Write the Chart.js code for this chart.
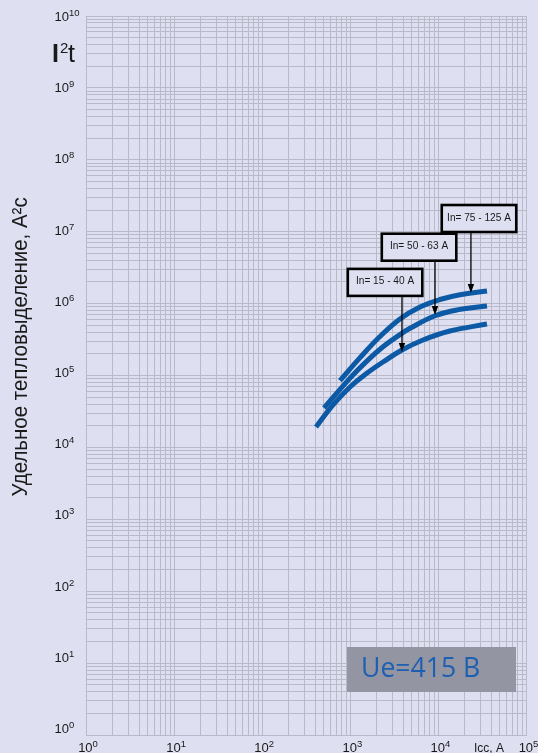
<!DOCTYPE html>
<html><head><meta charset="utf-8">
<script src="https://cdn.jsdelivr.net/npm/chart.js@4.4.1/dist/chart.umd.min.js"></script>
<style>html,body{margin:0;padding:0;background:#dedff0;}canvas{display:block;}</style>
</head><body>
<canvas id="c" width="538" height="753" style="width:538px;height:753px"></canvas>
<script>
// ---- data ----
const xExponents = [0, 1, 2, 3, 4, 5];
const yExponents = [0, 1, 2, 3, 4, 5, 6, 7, 8, 9, 10];
const seriesNames = ['In= 15 - 40 A', 'In= 50 - 63 A', 'In= 75 - 125 A'];

const lowX = [408, 636, 993, 1550, 2350, 3860, 6680, 13500, 35600];
const lowY = [1.92e4, 3.89e4, 6.92e4, 1.08e5, 1.54e5, 2.26e5, 3.12e5, 4.16e5, 5.2e5];

const midX = [503, 993, 1550, 2350, 3660, 4760, 9150, 16300, 35600];
const midY = [3.53e4, 9.2e4, 1.60e5, 2.51e5, 3.71e5, 4.53e5, 6.77e5, 8.17e5, 9.26e5];

const highX = [764, 1290, 2170, 3660, 6180, 10400, 17600, 35600];
const highY = [8.49e4, 1.77e5, 3.48e5, 6.11e5, 8.97e5, 1.14e6, 1.33e6, 1.50e6];

// annotation arrows: tip on curve, box bottom-centre
const annotTipX = [3860, 9150, 23400];
const annotTipY = [2.12e5, 6.94e5, 1.40e6];
const annotBoxX = [2480, 6030, 28900];
const annotBoxY = [1.28e6, 3.95e6, 9.9e6];

const yTitle = 'Удельное тепловыделение, А²с';
const xTitle = 'Icc, A';
const voltageLabel = 'Ue=415 B';

// ---- styles ----
const BG = '#dedff0';
const GRID = '#b8bac9';
const CURVE = '#0c5aa6';
const TXT = '#1a1a1a';
const FONT = '"Liberation Sans", Arial, sans-serif';

function gridValues(exps) {
  const v = [];
  for (let i = 0; i < exps.length; i++) {
    const b = Math.pow(10, exps[i]);
    if (i === exps.length - 1) { v.push(b); break; }
    for (let m = 1; m < 10; m++) v.push(m * b);
  }
  return v;
}
function pts(xs, ys) { return xs.map((v, i) => ({x: v, y: ys[i]})); }

function drawPow(ctx, exp, x, yb, align) {
  const main = '10', sup = String(exp);
  ctx.font = '13px ' + FONT;
  const wm = ctx.measureText(main).width;
  ctx.font = '9.5px ' + FONT;
  const ws = ctx.measureText(sup).width;
  let x0 = x;
  if (align === 'center') x0 = x - (wm + ws) / 2;
  ctx.textAlign = 'left';
  ctx.textBaseline = 'alphabetic';
  ctx.font = '13px ' + FONT;
  ctx.fillText(main, x0, yb);
  ctx.font = '9.5px ' + FONT;
  ctx.fillText(sup, x0 + wm, yb - 5);
}

const decor = {
  id: 'decor',
  afterDatasetsDraw(chart) {
    const {ctx, scales: {x, y}} = chart;
    ctx.save();
    for (let i = 0; i < seriesNames.length; i++) {
      const tx = x.getPixelForValue(annotTipX[i]);
      const ty = y.getPixelForValue(annotTipY[i]);
      const bx = x.getPixelForValue(annotBoxX[i]);
      const by = y.getPixelForValue(annotBoxY[i]);
      const w = 74.5, h = 27;
      ctx.strokeStyle = '#000';
      ctx.lineWidth = 1.3;
      ctx.beginPath();
      ctx.moveTo(tx, by);
      ctx.lineTo(tx, ty - 8);
      ctx.stroke();
      ctx.fillStyle = '#000';
      ctx.beginPath();
      ctx.moveTo(tx - 3.2, ty - 9);
      ctx.lineTo(tx + 3.2, ty - 9);
      ctx.lineTo(tx, ty);
      ctx.closePath();
      ctx.fill();
      ctx.fillStyle = BG;
      ctx.fillRect(bx - w / 2, by - h, w, h);
      ctx.lineWidth = 2.6;
      ctx.strokeRect(bx - w / 2, by - h, w, h);
      ctx.save();
      ctx.translate(bx, by - 11.5);
      ctx.scale(0.88, 1);
      ctx.fillStyle = TXT;
      ctx.font = '11.5px ' + FONT;
      ctx.textAlign = 'center';
      ctx.textBaseline = 'alphabetic';
      ctx.fillText(seriesNames[i], 0, 0);
      ctx.restore();
    }
    ctx.fillStyle = '#9395a3';
    ctx.fillRect(347, 647, 169, 45);
    ctx.fillStyle = '#1d5fb0';
    ctx.save();
    ctx.translate(361, 677);
    ctx.scale(0.95, 1);
    ctx.font = '28px "Open Sans", "Liberation Sans", sans-serif';
    ctx.textAlign = 'left';
    ctx.textBaseline = 'alphabetic';
    ctx.fillText(voltageLabel, 0, 0);
    ctx.restore();
    ctx.restore();
  },
  afterDraw(chart) {
    const {ctx, scales: {x, y}} = chart;
    ctx.save();
    ctx.fillStyle = TXT;
    yExponents.forEach(e => {
      const py = y.getPixelForValue(Math.pow(10, e));
      drawPow(ctx, e, 54.5, py - 2 + 0.7 * e, 'left');
    });
    xExponents.forEach(e => {
      const px = x.getPixelForValue(Math.pow(10, e));
      drawPow(ctx, e, px + 2, 752, 'center');
    });
    ctx.font = '12px ' + FONT;
    ctx.textAlign = 'left';
    ctx.fillText(xTitle, 474, 752);
    ctx.font = 'bold 25px ' + FONT;
    ctx.fillText('I', 52, 62);
    ctx.font = '15px ' + FONT;
    ctx.fillText('2', 60, 53);
    ctx.font = '25px ' + FONT;
    ctx.fillText('t', 68, 62);
    ctx.save();
    ctx.translate(27, 347);
    ctx.rotate(-Math.PI / 2);
    ctx.scale(0.93, 1);
    ctx.font = '22px ' + FONT;
    ctx.textAlign = 'center';
    ctx.textBaseline = 'alphabetic';
    ctx.fillText(yTitle, 0, 0);
    ctx.restore();
    ctx.restore();
  }
};

const lineDs = (label, xs, ys) => ({
  label, data: pts(xs, ys), borderColor: CURVE, borderWidth: 5,
  pointRadius: 0, fill: false, tension: 0.4, borderCapStyle: 'butt'
});

new Chart(document.getElementById('c'), {
  type: 'line',
  data: {datasets: [
    lineDs(seriesNames[0], lowX, lowY),
    lineDs(seriesNames[1], midX, midY),
    lineDs(seriesNames[2], highX, highY)
  ]},
  options: {
    responsive: false, animation: false,
    layout: {padding: {left: 86, top: 16, right: 11.5, bottom: 18}},
    plugins: {legend: {display: false}, tooltip: {enabled: false}},
    scales: {
      x: {type: 'logarithmic', min: 1, max: 1e5,
        afterBuildTicks: s => { s.ticks = gridValues(xExponents).map(v => ({value: v})); },
        ticks: {display: false}, grid: {color: GRID, lineWidth: 1, drawTicks: false},
        border: {color: GRID}},
      y: {type: 'logarithmic', min: 1, max: 1e10,
        afterBuildTicks: s => { s.ticks = gridValues(yExponents).map(v => ({value: v})); },
        ticks: {display: false}, grid: {color: GRID, lineWidth: 1, drawTicks: false},
        border: {color: GRID}}
    }
  },
  plugins: [decor]
});
</script>
</body></html>
